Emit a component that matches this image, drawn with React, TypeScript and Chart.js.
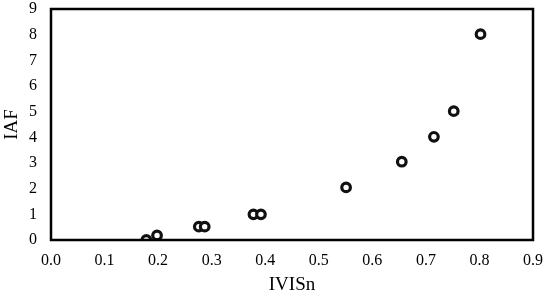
import React, { useEffect, useRef } from "react";
import { Chart, registerables } from "chart.js";

Chart.register(...registerables);

const xValues = [0.178, 0.198, 0.276, 0.287, 0.378, 0.392, 0.551, 0.655, 0.715, 0.752, 0.802];
const yValues = [0.0, 0.18, 0.52, 0.52, 1.0, 1.0, 2.05, 3.05, 4.02, 5.02, 8.02];
const xTicks = [0, 0.1, 0.2, 0.3, 0.4, 0.5, 0.6, 0.7, 0.8, 0.9];
const yTicks = [0, 1, 2, 3, 4, 5, 6, 7, 8, 9];

const FONT = "'Liberation Serif', 'Times New Roman', serif";

const frame = {
  id: "frame",
  afterDatasetsDraw(chart: any) {
    const { ctx, chartArea } = chart;
    ctx.save();
    ctx.strokeStyle = "#000";
    ctx.lineWidth = 2.5;
    ctx.strokeRect(chartArea.left, chartArea.top, chartArea.right - chartArea.left, chartArea.bottom - chartArea.top);
    ctx.restore();
  },
};

export default function App() {
  const ref = useRef<HTMLCanvasElement | null>(null);
  useEffect(() => {
    document.body.style.margin = "0";
    const data = xValues.map((x, i) => ({ x, y: yValues[i] }));
    const chart = new Chart(ref.current!, {
      type: "scatter",
      data: {
        datasets: [
          {
            data,
            pointRadius: 4.3,
            pointBorderWidth: 3.2,
            pointBorderColor: "#111",
            pointBackgroundColor: "#fff",
          },
        ],
      },
      options: {
        animation: false,
        responsive: false,
        layout: { padding: { top: 9, right: 14, left: 0, bottom: 0 } },
        plugins: { legend: { display: false }, tooltip: { enabled: false } },
        scales: {
          x: {
            type: "linear",
            min: 0,
            max: 0.9,
            afterBuildTicks: (s: any) => {
              s.ticks = xTicks.map((v) => ({ value: v }));
            },
            afterFit: (s: any) => {
              s.height = 59;
              s.paddingLeft = 0;
              s.paddingRight = 0;
            },
            grid: { display: false, drawTicks: false },
            border: { display: false },
            ticks: {
              padding: 11,
              color: "#000",
              font: { family: FONT, size: 16 },
              callback: (v: any) => Number(v).toFixed(1),
            },
            title: {
              display: true,
              text: "IVISn",
              color: "#000",
              font: { family: FONT, size: 19 },
              padding: { top: 0, bottom: 3 },
            },
          },
          y: {
            type: "linear",
            min: 0,
            max: 9,
            afterBuildTicks: (s: any) => {
              s.ticks = yTicks.map((v) => ({ value: v }));
            },
            afterFit: (s: any) => {
              s.width = 51;
              s.paddingTop = 0;
              s.paddingBottom = 0;
            },
            grid: { display: false, drawTicks: false },
            border: { display: false },
            ticks: {
              padding: 14,
              color: "#000",
              font: { family: FONT, size: 16 },
              callback: (v: any) => String(v),
            },
            title: {
              display: true,
              text: "IAF",
              color: "#000",
              font: { family: FONT, size: 19 },
              padding: { top: 1, bottom: 0 },
            },
          },
        },
      },
      plugins: [frame],
    });
    return () => chart.destroy();
  }, []);
  return (
    <div style={{ width: 547, height: 299, background: "#fff" }}>
      <canvas ref={ref} width={547} height={299} />
    </div>
  );
}
